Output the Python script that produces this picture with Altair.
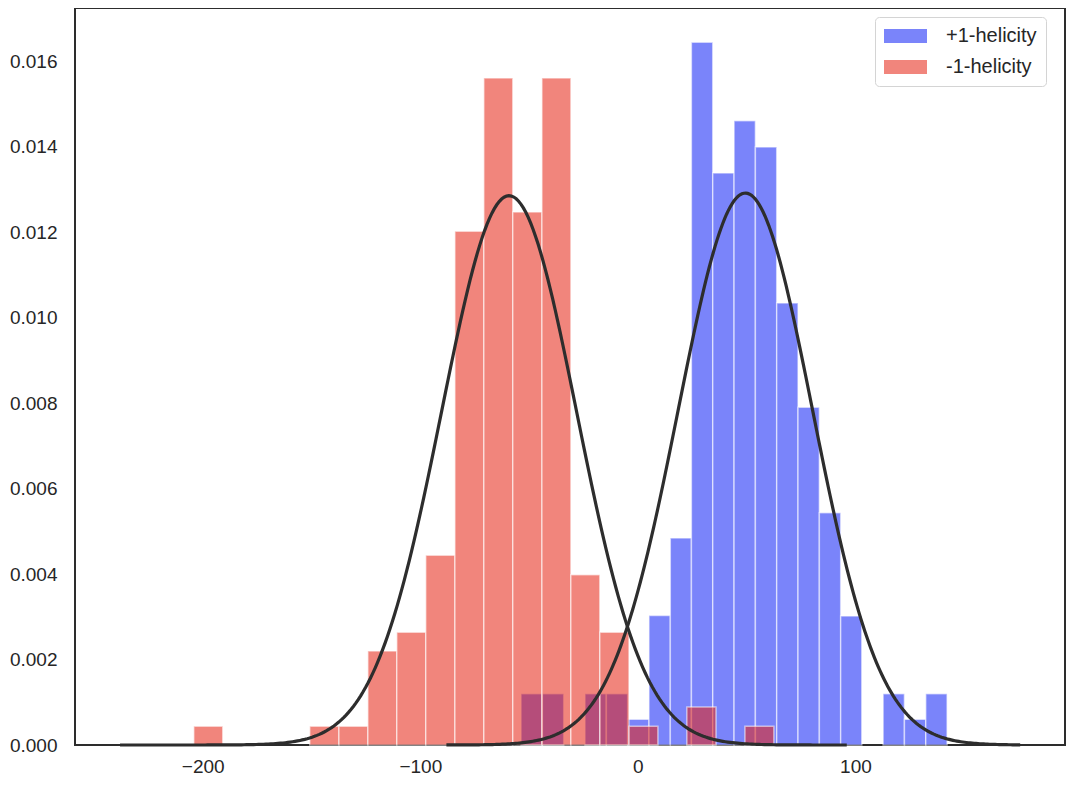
import altair as alt
import numpy as np
import pandas as pd

# ---- data ----
series_names = ["+1-helicity", "-1-helicity"]

# +1-helicity histogram (density), 20 bins
pos_edges = [-53.7, -43.9, -34.1, -24.3, -14.5, -4.7, 5.1, 14.9, 24.6, 34.4, 44.2,
             54.0, 63.8, 73.6, 83.4, 93.2, 102.9, 112.7, 122.5, 132.3, 142.1]
pos_density = [0.0012, 0.0012, 0.0, 0.0012, 0.0012, 0.0006, 0.00303, 0.00484,
               0.01644, 0.01338, 0.0146, 0.01399, 0.01034, 0.0079, 0.00543,
               0.00302, 0.0, 0.0012, 0.0006, 0.0012]

# -1-helicity histogram (density), 20 bins
neg_edges = [-204.1, -190.8, -177.4, -164.1, -150.8, -137.4, -124.1, -110.8, -97.5,
             -84.1, -70.8, -57.5, -44.1, -30.8, -17.5, -4.1, 9.2, 22.5, 35.9, 49.2, 62.5]
neg_density = [0.00044, 0.0, 0.0, 0.0, 0.00044, 0.00044, 0.0022, 0.00264, 0.00444,
               0.01202, 0.0156, 0.01247, 0.0156, 0.00398, 0.00264, 0.00044, 0.0,
               0.00089, 0.0, 0.00044]

# fitted normal curves (mean, std, drawn range)
pos_fit = {"mu": 49.4, "sigma": 30.9, "lo": -88.0, "hi": 175.7}
neg_fit = {"mu": -59.2, "sigma": 31.05, "lo": -238.0, "hi": 96.0}

x_ticks = [-200, -100, 0, 100]
y_ticks = [0.0, 0.002, 0.004, 0.006, 0.008, 0.010, 0.012, 0.014, 0.016]
x_domain = [-258.7, 196.3]
y_domain = [0.0, 0.01724]

# ---- build tables ----
def hist_df(edges, dens, name):
    rows = []
    for i, d in enumerate(dens):
        if d > 0:
            rows.append({"x0": edges[i], "x1": edges[i + 1], "d": d, "series": name})
    return pd.DataFrame(rows)

pos_df = hist_df(pos_edges, pos_density, series_names[0])
neg_df = hist_df(neg_edges, neg_density, series_names[1])

def fit_df(p, name):
    xs = np.linspace(p["lo"], p["hi"], 300)
    ys = np.exp(-0.5 * ((xs - p["mu"]) / p["sigma"]) ** 2) / (p["sigma"] * np.sqrt(2 * np.pi))
    return pd.DataFrame({"x": xs, "y": ys, "curve": name})

curve_df = pd.concat([fit_df(pos_fit, "pos"), fit_df(neg_fit, "neg")], ignore_index=True)

FONT = "Liberation Sans"
TXT = "#262626"
OP = 0.55

xscale = alt.Scale(domain=x_domain, nice=False, zero=False)
yscale = alt.Scale(domain=y_domain, nice=False, zero=True)

color = alt.Color(
    "series:N",
    scale=alt.Scale(domain=series_names, range=["#0d1ff6", "#e62111"]),
    legend=alt.Legend(
        title=None,
        orient="none",
        legendX=800,
        legendY=9,
        symbolType="M-1,-0.7H3.3V0.7H-1Z",
        symbolSize=400,
        symbolOpacity=OP,
        symbolStrokeWidth=0,
        labelFont=FONT,
        labelFontSize=20,
        labelColor=TXT,
        labelOffset=42,
        rowPadding=11,
        padding=9,
        fillColor="white",
        strokeColor="#d4d4d4",
        cornerRadius=4,
    ),
)

xaxis = alt.Axis(values=x_ticks, format="d", title=None, labelPadding=12, labelFontSize=19)
yaxis = alt.Axis(values=y_ticks, format=".3f", title=None, labelPadding=18, labelFontSize=19)

def bars(df):
    return alt.Chart(df).mark_bar(
        fillOpacity=OP, stroke="white", strokeOpacity=0.55, strokeWidth=1.5
    ).encode(
        x=alt.X("x0:Q", scale=xscale, axis=xaxis),
        x2="x1:Q",
        y=alt.Y("d:Q", scale=yscale, axis=yaxis, stack=None),
        y2=alt.datum(0),
        color=color,
    )

lines = alt.Chart(curve_df).mark_line(color="#2d2d2d", strokeWidth=3.2).encode(
    x=alt.X("x:Q", scale=xscale),
    y=alt.Y("y:Q", scale=yscale),
    detail="curve:N",
)

chart = alt.layer(bars(pos_df), bars(neg_df), lines).properties(
    width=990,
    height=737,
    background="white",
    padding={"left": 67, "top": 0, "right": 1, "bottom": 32},
    autosize=alt.AutoSizeParams(type="none"),
).configure_view(
    stroke="#2d2d2d", strokeWidth=2
).configure_axis(
    grid=False,
    domain=False,
    ticks=False,
    tickSize=0,
    labelFont=FONT,
    labelColor=TXT,
)

chart.save("out.html", embed_options={"renderer": "svg", "actions": False})
